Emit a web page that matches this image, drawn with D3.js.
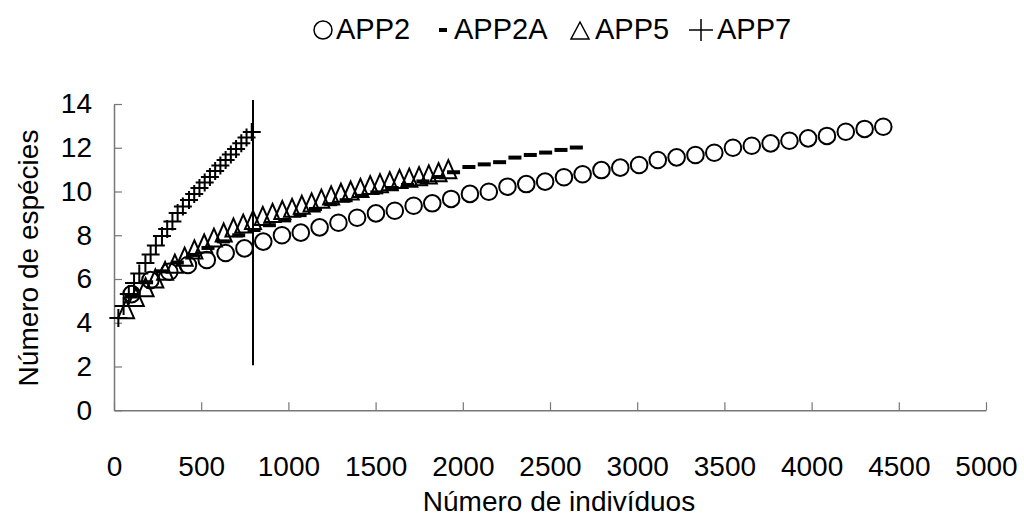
<!DOCTYPE html>
<html><head><meta charset="utf-8">
<script src="https://cdn.jsdelivr.net/npm/d3@7"></script>
<style>
html,body{margin:0;padding:0;background:#fff;}
svg{display:block;}
text{font-family:"Liberation Sans",Arial,sans-serif;fill:#000;}
</style></head>
<body>
<svg id="chart" width="1024" height="529"></svg>
<script>
const xTicks = [0,500,1000,1500,2000,2500,3000,3500,4000,4500,5000];
const yTicks = [0,2,4,6,8,10,12,14];
const seriesNames = ["APP2","APP2A","APP5","APP7"];

const app2X = [101,209,317,424,532,640,748,856,963,1071,1179,1287,1394,1502,1610,1718,1825,1933,2041,2149,2256,2364,2472,2580,2687,2795,2903,3011,3118,3226,3334,3442,3549,3657,3765,3873,3980,4088,4196,4304,4411];
const app2Y = [5.31,5.95,6.33,6.64,6.87,7.19,7.40,7.71,8.0,8.12,8.36,8.57,8.80,9.0,9.12,9.35,9.46,9.66,9.89,9.99,10.22,10.34,10.45,10.65,10.79,10.98,11.09,11.21,11.44,11.56,11.67,11.77,12.0,12.09,12.20,12.32,12.43,12.54,12.73,12.86,12.96];

const app2aX = [99,187,275,363,451,539,627,715,803,891,979,1067,1155,1243,1331,1419,1507,1595,1683,1771,1859,1947,2035,2123,2211,2299,2387,2475,2563,2651];
const app2aY = [5.2,5.85,6.35,6.75,7.1,7.42,7.72,8.0,8.24,8.46,8.68,8.92,9.2,9.42,9.6,9.8,9.96,10.16,10.3,10.46,10.66,10.88,11.12,11.24,11.34,11.55,11.67,11.78,11.9,12.01];

const app5X = [69,125,181,237,293,349,405,461,517,573,629,685,741,797,853,909,965,1021,1077,1133,1189,1245,1301,1357,1413,1469,1525,1581,1637,1693,1749,1805,1861,1917];
const app5Y = [4.6,5.15,5.6,6.0,6.35,6.68,7.0,7.33,7.6,7.87,8.1,8.33,8.51,8.68,8.86,9.0,9.13,9.23,9.37,9.48,9.65,9.8,9.92,10.02,10.14,10.27,10.36,10.45,10.55,10.61,10.68,10.76,10.86,11.0];

const app7X = [25,55,85,115,145,180,210,240,275,305,335,365,395,430,460,490,520,550,580,610,640,670,700,730,760,790];
const app7Y = [4.22,4.77,5.31,5.82,6.25,6.73,7.12,7.53,7.97,8.29,8.63,9.02,9.31,9.61,9.89,10.16,10.41,10.66,10.94,11.19,11.44,11.69,11.94,12.21,12.47,12.72];

const refLineX = 797;
const refLineY = [2.06, 14.18];

const svg = d3.select("#chart");
const x = d3.scaleLinear().domain([0,5000]).range([114,986]);
const y = d3.scaleLinear().domain([0,14]).range([410.25,104]);
const FS = 28;
const axisColor = "#777";

// x axis
const gx = svg.append("g").attr("transform",`translate(0,${y(0)})`)
  .call(d3.axisBottom(x).tickValues(xTicks).tickSize(-8).tickSizeOuter(0).tickPadding(46).tickFormat(d3.format("d")));
// y axis
const gy = svg.append("g").attr("transform",`translate(${x(0)},0)`)
  .call(d3.axisLeft(y).tickValues(yTicks).tickSize(-8).tickSizeOuter(0).tickPadding(22).tickFormat(d3.format("d")));
[gx,gy].forEach(g=>{
  g.selectAll("path.domain").attr("stroke",axisColor).attr("stroke-width",1.5);
  g.selectAll(".tick line").attr("stroke",axisColor).attr("stroke-width",1.2);
  g.selectAll(".tick text").attr("font-size",FS).attr("font-family","Liberation Sans, Arial, sans-serif").attr("fill","#000");
});

// axis titles
svg.append("text").attr("x",559).attr("y",501).attr("dy","0.36em").attr("text-anchor","middle").attr("font-size",FS).text("Número de indivíduos");
svg.append("text").attr("transform","translate(28,258) rotate(-90)").attr("dy","0.36em").attr("text-anchor","middle").attr("font-size",FS).text("Número de espécies");

// reference vertical line
svg.append("line").attr("x1",x(refLineX)).attr("x2",x(refLineX)).attr("y1",y(refLineY[0])).attr("y2",y(refLineY[1]))
  .attr("stroke","#000").attr("stroke-width",2);

const plot = svg.append("g");
const triPath = "M0,-9.5 L8,8.5 L-8,8.5 Z";
const plusPath = "M-9,0 H9 M0,-9 V9";

// APP2 circles
plot.append("g").selectAll("circle").data(app2X.map((d,i)=>[d,app2Y[i]])).join("circle")
  .attr("cx",d=>x(d[0])).attr("cy",d=>y(d[1])).attr("r",8.3)
  .attr("fill","none").attr("stroke","#000").attr("stroke-width",2);
// APP2A dashes
plot.append("g").selectAll("rect").data(app2aX.map((d,i)=>[d,app2aY[i]])).join("rect")
  .attr("x",d=>x(d[0])-6.5).attr("y",d=>y(d[1])-2).attr("width",13).attr("height",4).attr("fill","#000");
// APP5 triangles
plot.append("g").selectAll("path").data(app5X.map((d,i)=>[d,app5Y[i]])).join("path")
  .attr("transform",d=>`translate(${x(d[0])},${y(d[1])})`).attr("d",triPath)
  .attr("fill","none").attr("stroke","#000").attr("stroke-width",2);
// APP7 plus
plot.append("g").selectAll("path").data(app7X.map((d,i)=>[d,app7Y[i]])).join("path")
  .attr("transform",d=>`translate(${x(d[0])},${y(d[1])})`).attr("d",plusPath)
  .attr("fill","none").attr("stroke","#000").attr("stroke-width",2);

// legend
const LFS = 29;
const leg = svg.append("g").attr("transform","translate(0,29)");
const legItems = [
  {name:seriesNames[0], mx:323, tx:336},
  {name:seriesNames[1], mx:443, tx:454},
  {name:seriesNames[2], mx:580, tx:595},
  {name:seriesNames[3], mx:701, tx:717}
];
leg.append("circle").attr("cx",legItems[0].mx).attr("cy",1).attr("r",9).attr("fill","none").attr("stroke","#000").attr("stroke-width",1.5);
leg.append("rect").attr("x",legItems[1].mx-4).attr("y",-1).attr("width",8).attr("height",4).attr("fill","#000");
leg.append("path").attr("transform",`translate(${legItems[2].mx},1)`).attr("d","M0,-8 L9,9 L-9,9 Z").attr("fill","none").attr("stroke","#000").attr("stroke-width",1.5);
leg.append("path").attr("transform",`translate(${legItems[3].mx},1)`).attr("d","M-12,0 H12 M0,-11 V11").attr("fill","none").attr("stroke","#000").attr("stroke-width",1.5);
legItems.forEach(it=>{
  leg.append("text").attr("x",it.tx).attr("y",0).attr("dy","0.36em").attr("font-size",LFS).text(it.name);
});
</script>
</body></html>
